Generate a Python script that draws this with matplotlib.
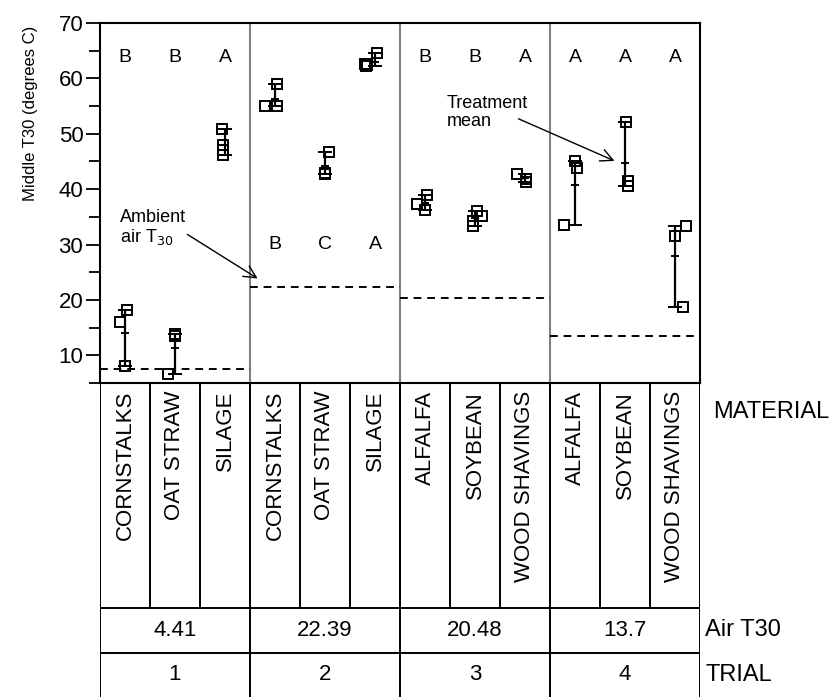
import numpy as np
import matplotlib.pyplot as plt

plt.rcParams['font.family'] = ['Liberation Sans', 'DejaVu Sans']

# --- data ---
materials = ['CORNSTALKS', 'OAT STRAW', 'SILAGE',
             'CORNSTALKS', 'OAT STRAW', 'SILAGE',
             'ALFALFA', 'SOYBEAN', 'WOOD SHAVINGS',
             'ALFALFA', 'SOYBEAN', 'WOOD SHAVINGS']
trials = ['1', '2', '3', '4']
air_t30 = ['4.41', '22.39', '20.48', '13.7']
ambient_line = [7.5, 22.3, 20.4, 13.5]

reps = [
    [18.2, 16.0, 8.1],
    [13.8, 13.4, 6.7],
    [50.9, 48.0, 47.0, 46.2],
    [58.9, 55.0, 55.1],
    [46.7, 43.0, 42.7],
    [64.6, 62.6, 62.3, 62.4],
    [38.9, 37.4, 36.2],
    [36.0, 35.2, 34.3, 33.4],
    [42.7, 41.8, 41.3],
    [45.0, 43.8, 33.6],
    [52.1, 41.5, 40.6],
    [33.4, 31.6, 18.8],
]
# horizontal jitter of the replicate squares (fraction of a column)
jitter = [
    [0.04, -0.10, 0.0],
    [0.0, 0.0, -0.14],
    [-0.06, -0.04, -0.04, -0.04],
    [0.04, -0.20, 0.04],
    [0.08, 0.0, 0.0],
    [0.04, -0.20, -0.18, -0.16],
    [0.04, -0.16, 0.0],
    [0.04, 0.14, -0.04, -0.04],
    [-0.16, 0.02, 0.02],
    [0.0, 0.04, -0.22],
    [0.02, 0.06, 0.06],
    [0.22, 0.0, 0.16],
]
letters = ['B', 'B', 'A', 'B', 'C', 'A', 'B', 'B', 'A', 'A', 'A', 'A']
letter_y = [63.7, 63.7, 63.7, 30.0, 30.0, 30.0, 63.7, 63.7, 63.7, 63.7, 63.7, 63.7]

# --- figure ---
fig = plt.figure(figsize=(8.4, 7.0), dpi=100)
W, H = 840, 700
ax = fig.add_axes([100 / W, 1 - 383 / H, 600 / W, 360 / H])
ax.set_xlim(-0.5, 11.5)
ax.set_ylim(5, 70)

for i, vals in enumerate(reps):
    vals = np.array(vals)
    lo, hi, mean = vals.min(), vals.max(), vals.mean()
    ax.vlines(i, lo, hi, color='black', lw=1.6, zorder=3)
    ax.hlines([lo, hi], i - 0.14, i + 0.14, color='black', lw=1.4, zorder=3)
    ax.hlines(mean, i - 0.08, i + 0.08, color='black', lw=1.4, zorder=3)
    ax.plot(i + np.array(jitter[i]), vals, 's', ms=7.5, mfc='none',
            mec='black', mew=1.4, zorder=4)
    ax.text(i, letter_y[i], letters[i], ha='center', va='center', fontsize=14)

for t, lvl in enumerate(ambient_line):
    ax.hlines(lvl, 3 * t - 0.5, 3 * t + 2.5, color='black', lw=1.4,
              linestyle=(0, (4, 3)), zorder=2)

for xb in [2.5, 5.5, 8.5]:
    ax.axvline(xb, color='#808080', lw=1.5, zorder=1)

ax.text(-0.1, 33.0, 'Ambient\nair T$_{30}$', fontsize=13, ha='left', va='center',
        linespacing=1.1)
ax.annotate('', xy=(2.7, 23.6), xytext=(1.2, 32.1),
            arrowprops=dict(arrowstyle='->', color='black', lw=1.0,
                            mutation_scale=22))
ax.text(6.44, 53.9, 'Treatment\nmean', fontsize=13, ha='left', va='center',
        linespacing=1.1)
ax.annotate('', xy=(9.84, 44.9), xytext=(7.82, 52.9),
            arrowprops=dict(arrowstyle='->', color='black', lw=1.0,
                            mutation_scale=22))

ax.set_xticks([])
ax.set_yticks(np.arange(10, 71, 10))
ax.set_yticks(np.arange(5, 70, 10), minor=True)
ax.tick_params(axis='y', which='major', direction='out', length=10, width=1.3,
               labelsize=16, pad=2)
ax.tick_params(axis='y', which='minor', direction='out', length=8, width=1.3)
ax.set_ylabel('Middle T30 (degrees C)', fontsize=12)
ax.yaxis.set_label_coords(-0.103, 0.75)
for s in ax.spines.values():
    s.set_linewidth(1.5)

# --- table under the plot ---
tab = fig.add_axes([100 / W, 1 - 697 / H, 600 / W, 314 / H])
tab.set_xlim(-0.5, 11.5)
tab.set_ylim(314, 0)
tab.axis('off')
row_mat, row_air = 225, 270

for xb in np.arange(-0.5, 12, 1):
    tab.vlines(xb, 0, row_mat, color='black', lw=1.4)
for xb in np.arange(-0.5, 12, 3):
    tab.vlines(xb, 0, 314, color='black', lw=1.4)
tab.hlines([row_mat, row_air], -0.5, 11.5, color='black', lw=1.4)

for i, m in enumerate(materials):
    tab.text(i, 8, m, rotation=90, ha='center', va='top', fontsize=16)
for t in range(4):
    tab.text(3 * t + 1, (row_mat + row_air) / 2, air_t30[t], ha='center',
             va='center', fontsize=16)
    tab.text(3 * t + 1, (row_air + 314) / 2, trials[t], ha='center',
             va='center', fontsize=16)

tab.text(11.76, 29, 'MATERIAL', ha='left', va='center', fontsize=17, clip_on=False)
tab.text(11.6, (row_mat + row_air) / 2, 'Air T30', ha='left', va='center',
         fontsize=17, clip_on=False)
tab.text(11.6, (row_air + 314) / 2, 'TRIAL', ha='left', va='center',
         fontsize=17, clip_on=False)

fig.savefig('out.png', dpi=100)
